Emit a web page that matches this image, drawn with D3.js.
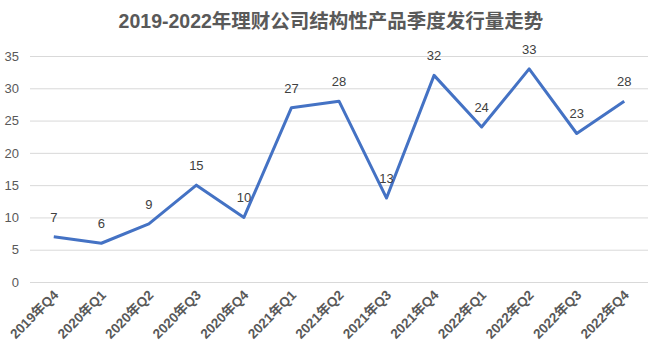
<!DOCTYPE html>
<html><head><meta charset="utf-8">
<script src="https://cdn.jsdelivr.net/npm/d3@7"></script>
<style>body{margin:0;background:#fff;} text{font-family:"Liberation Sans","Noto Sans CJK SC",sans-serif;}</style>
</head><body>
<svg id="c" width="662" height="356"></svg>
<script>
const categories = ["2019年Q4","2020年Q1","2020年Q2","2020年Q3","2020年Q4","2021年Q1","2021年Q2","2021年Q3","2021年Q4","2022年Q1","2022年Q2","2022年Q3","2022年Q4"];
const values = [7,6,9,15,10,27,28,13,32,24,33,23,28];
const yTicks = [0,5,10,15,20,25,30,35];
const title = "2019-2022年理财公司结构性产品季度发行量走势";

(function(){
const svg = d3.select("#c");
const pl = 30, pr = 648, pt = 56, pb = 282;
const x = d3.scalePoint().domain(categories).range([pl, pr]).padding(0.5);
const y = d3.scaleLinear().domain([0,35]).range([pb, pt]);

svg.append("text").attr("x", 331).attr("y", 28).attr("text-anchor","middle")
  .attr("font-size", 19.5).attr("font-weight","bold").attr("fill","#595959").text(title);

const yAxis = d3.axisLeft(y).tickValues(yTicks).tickSize(-(pr-pl)).tickPadding(11);
const gy = svg.append("g").attr("transform",`translate(${pl},0)`).call(yAxis);
gy.select(".domain").remove();
gy.selectAll(".tick line").attr("stroke","#d9d9d9").attr("stroke-width",1);
gy.selectAll(".tick text").attr("font-size",13).attr("fill","#595959").attr("font-family","Liberation Sans, sans-serif");

const xAxis = d3.axisBottom(x).tickSize(0).tickPadding(0);
const gx = svg.append("g").attr("transform",`translate(0,${pb})`).call(xAxis);
gx.select(".domain").remove();
gx.selectAll(".tick text").attr("font-size",13.5).attr("font-weight","bold").attr("fill","#595959")
  .attr("text-anchor","end").attr("dy",0).attr("transform","translate(5,14) rotate(-45)");

const line = d3.line().x((d,i)=>x(categories[i])).y(d=>y(d));
svg.append("path").datum(values).attr("d", line).attr("fill","none")
  .attr("stroke","#4472C4").attr("stroke-width",3).attr("stroke-linejoin","round");

svg.append("g").selectAll("text").data(values).join("text")
  .attr("x",(d,i)=>x(categories[i])).attr("y",d=>y(d)-15)
  .attr("text-anchor","middle").attr("font-size",13).attr("fill","#404040").text(d=>d);
})();
</script>
</body></html>
